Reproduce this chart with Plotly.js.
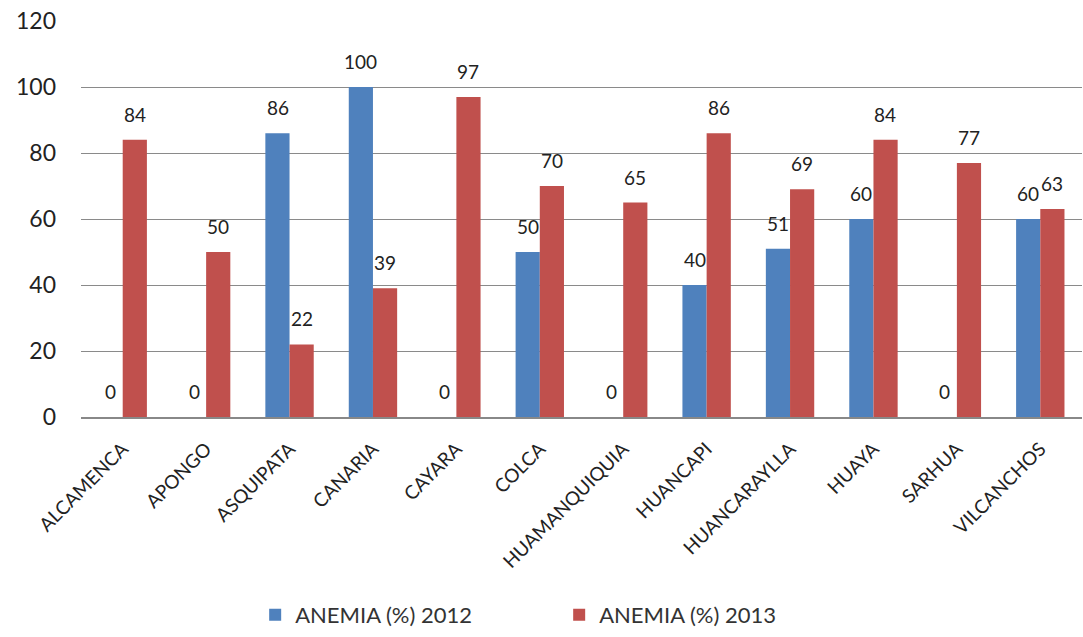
<!DOCTYPE html>
<html>
<head>
<meta charset="utf-8">
<script src="https://cdn.plot.ly/plotly-3.0.1.min.js"></script>
<style>html,body{margin:0;padding:0;background:#fff;}#chart{width:1083px;height:637px;}</style>
</head>
<body>
<div id="chart"></div>
<script>
var categories = ["ALCAMENCA","APONGO","ASQUIPATA","CANARIA","CAYARA","COLCA","HUAMANQUIQUIA","HUANCAPI","HUANCARAYLLA","HUAYA","SARHUA","VILCANCHOS"];
var anemia2012 = [0, 0, 86, 100, 0, 50, 0, 40, 51, 60, 0, 60];
var anemia2013 = [84, 50, 22, 39, 97, 70, 65, 86, 69, 84, 77, 63];
var seriesNames = ["ANEMIA (%) 2012", "ANEMIA (%) 2013"];
var yTicks = [0, 20, 40, 60, 80, 100, 120];

var blue = "#4F81BD", red = "#C0504D";
var fontFam = "Lato, 'Open Sans', sans-serif";

var traces = [
  {type: "bar", name: seriesNames[0], x: categories, y: anemia2012, marker: {color: blue}, hoverinfo: "skip"},
  {type: "bar", name: seriesNames[1], x: categories, y: anemia2013, marker: {color: red}, hoverinfo: "skip"}
];

var annotations = [];
[anemia2012, anemia2013].forEach(function(vals, s) {
  vals.forEach(function(v, i) {
    annotations.push({
      x: categories[i], y: v, xref: "x", yref: "y",
      text: String(v), showarrow: false,
      xanchor: "center", yanchor: "bottom",
      xshift: s === 0 ? -12 : 12, yshift: 12,
      font: {family: fontFam, size: 19, color: "#222"}
    });
  });
});

var layout = {
  width: 1083, height: 637,
  margin: {l: 81, r: 1, t: 21, b: 217},
  paper_bgcolor: "#fff", plot_bgcolor: "#fff",
  barmode: "group", bargap: 0.42, bargroupgap: 0,
  showlegend: true,
  legend: {orientation: "h", x: 0.174, xanchor: "left", y: -0.5, yanchor: "middle", entrywidth: 259,
           font: {family: fontFam, size: 22, color: "#333"}, traceorder: "normal"},
  xaxis: {type: "category", tickangle: -45, showgrid: false, showline: true, linecolor: "#888", linewidth: 1.5,
          ticks: "", ticklabelstandoff: 12, tickfont: {family: fontFam, size: 19, color: "#222"}, fixedrange: true},
  yaxis: {range: [0, 120], tickvals: yTicks, ticktext: yTicks.map(String), showgrid: true, gridcolor: "#8a8a8a", gridwidth: 1,
          zeroline: false, showline: false, ticks: "", ticklen: 0, ticklabelstandoff: 24,
          tickfont: {family: fontFam, size: 23, color: "#222"}, fixedrange: true},
  annotations: annotations
};

Plotly.newPlot("chart", traces, layout, {displayModeBar: false, staticPlot: true});
</script>
</body>
</html>
